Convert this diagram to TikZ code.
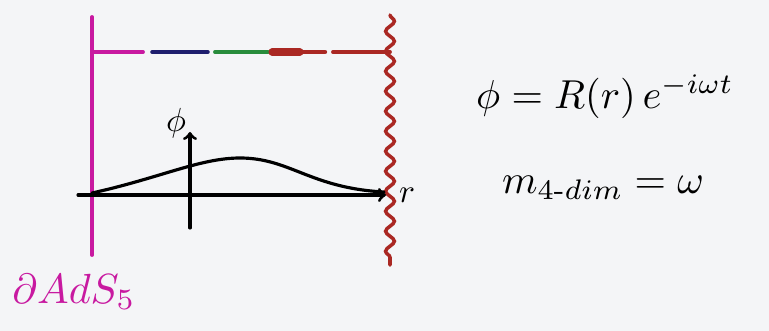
\documentclass[tikz,border=0pt]{standalone}
\usepackage{amsmath, amssymb}
\usepackage{tikz}
\usetikzlibrary{calc, decorations.pathmorphing}
\definecolor{adsmag}{RGB}{200,25,160}
\definecolor{wallred}{RGB}{170,40,35}
\definecolor{dashblue}{RGB}{30,30,110}
\definecolor{dashgreen}{RGB}{40,140,60}
\definecolor{paper}{RGB}{244,245,247}

\begin{document}
\begin{tikzpicture}[x=0.02cm, y=-0.02cm, line cap=round,
    pen/.style={line width=1.8pt},
    eqn/.style={inner sep=0pt, scale=2.3}]
            \fill[paper] (0,0) rectangle (769,331);
            \useasboundingbox (0,0) rectangle (769,331);
            % boundary and wall
            \coordinate (B1) at (92,17);
            \coordinate (B2) at (92,255);
            \coordinate (W1) at (390,15);
            \coordinate (W2) at (390,265);
            \draw[adsmag, line width=2.2pt] (B1) -- (B2);
            \draw[wallred, line width=2pt, decoration={snake, amplitude=2.5pt, segment length=0.4cm}, decorate] (W1) -- (W2);
            % dashes on top
            \coordinate (T) at (92,52);
            \draw[adsmag, line width=2.2pt] (T) -- (143,52);
            \draw[dashblue, line width=2pt] (152,52) -- (208,52);
            \draw[dashgreen, line width=2.2pt] (215,52) -- (268,52);
            \draw[wallred, line width=4pt] (272,52) -- (300,52);
            \draw[wallred, line width=2.5pt] (300,52) -- (325,52);
            \draw[wallred, line width=2.2pt] (333,52) -- (390,52);
            % axes
            \coordinate (O) at (78,195);
            \coordinate (R) at (386,195);
            \coordinate (P0) at (190,228);
            \coordinate (P1) at (190,132);
            \draw[pen, ->] (O) -- (R);
            \draw[pen, ->] (P0) -- (P1);
            \node[scale=1.9] (rlab) at (407,195) {$r$};
            \node[scale=1.9] (philab) at (176,123) {$\phi$};
            % profile
            \draw[pen] (92,193) .. controls (160,178) and (200,158) .. (240,158)
                                .. controls (290,158) and (310,188) .. (384,192);
            % labels
            \node[adsmag, scale=2.4] (ads) at (74,292) {$\partial AdS_5$};
            \node[eqn] (eq1) at (605,97) {$\phi = R(r)\, e^{-i\omega t}$};
            \node[eqn] (eq2) at (603,188) {$m_{4\text{-}dim} = \omega$};
        \end{tikzpicture}
\end{document}
